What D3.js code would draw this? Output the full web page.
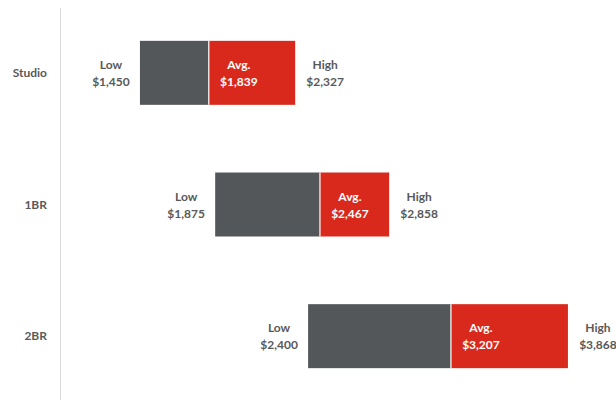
<!DOCTYPE html>
<html><head><meta charset="utf-8">
<script src="https://cdn.jsdelivr.net/npm/d3@7"></script>
<style>body{margin:0;background:#fff}svg{display:block}</style>
</head><body>
<svg id="c" width="616" height="400"></svg>
<script>
const categories = ["Studio", "1BR", "2BR"];
const lowValues = [1450, 1875, 2400];
const avgValues = [1839, 2467, 3207];
const highValues = [2327, 2858, 3868];

const svg = d3.select("#c");
const x = d3.scaleLinear().domain([1000, 4200]).range([60.3, 626.7]);
const y = d3.scaleBand().domain(categories).range([7, 402]).paddingInner(0.514).paddingOuter(0.257);
const font = "Lato, 'Open Sans', sans-serif";
const textCol = "#595959";

svg.append("line").attr("x1", 60.5).attr("x2", 60.5).attr("y1", 8).attr("y2", 400)
  .attr("stroke", "#d9d9d9").attr("stroke-width", 1);

const data = categories.map((c, i) => ({c, lo: lowValues[i], avg: avgValues[i], hi: highValues[i]}));
const fmt = v => "$" + d3.format(",")(v);

const g = svg.append("g").selectAll("g").data(data).join("g");
g.append("rect").attr("x", d => x(d.lo)).attr("width", d => x(d.avg) - x(d.lo))
  .attr("y", d => y(d.c)).attr("height", y.bandwidth()).attr("fill", "#54575a");
g.append("rect").attr("x", d => x(d.avg)).attr("width", d => x(d.hi) - x(d.avg))
  .attr("y", d => y(d.c)).attr("height", y.bandwidth()).attr("fill", "#d9291c");
g.append("line").attr("x1", d => x(d.avg)).attr("x2", d => x(d.avg))
  .attr("y1", d => y(d.c)).attr("y2", d => y(d.c) + y.bandwidth()).attr("stroke", "#fff").attr("stroke-width", 1.2);

// category labels
g.append("text").attr("x", 47).attr("y", d => y(d.c) + y.bandwidth() / 2)
  .attr("dy", "0.35em").attr("text-anchor", "end")
  .attr("font-family", font).attr("font-weight", 700).attr("font-size", 12)
  .attr("fill", textCol).text(d => d.c);

function twoLine(sel, xf, title, valf, col) {
  const t = sel.append("text").attr("text-anchor", "middle")
    .attr("font-family", font).attr("font-weight", 700).attr("font-size", 12).attr("fill", col);
  t.append("tspan").attr("x", xf).attr("y", d => y(d.c) + y.bandwidth() / 2 - 8).attr("dy", "0.35em").text(title);
  t.append("tspan").attr("x", xf).attr("y", d => y(d.c) + y.bandwidth() / 2 + 9).attr("dy", "0.35em").text(valf);
}
twoLine(g, d => x(d.lo) - 29, "Low", d => fmt(d.lo), textCol);
twoLine(g, d => x(d.avg) + 30, "Avg.", d => fmt(d.avg), "#ffffff");
twoLine(g, d => x(d.hi) + 30, "High", d => fmt(d.hi), textCol);
</script>
</body></html>
